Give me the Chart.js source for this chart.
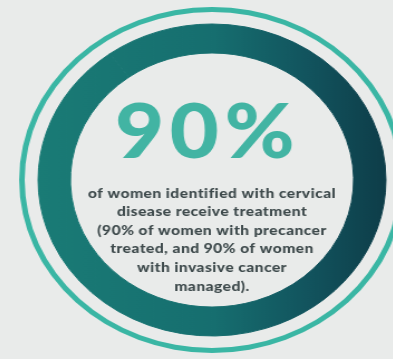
<!DOCTYPE html>
<html>
<head>
<meta charset="utf-8">
<script src="https://cdn.jsdelivr.net/npm/chart.js@4"></script>
<style>
  html, body { margin: 0; padding: 0; }
  body { width: 393px; height: 359px; background: #e9ebea; overflow: hidden; position: relative; }
  /* the source frame is a bit stretched sideways, so the ring is squashed into an ellipse */
  #wrap { position: absolute; left: 32px; top: 0; width: 359px; height: 359px;
          transform: scaleX(1.115); transform-origin: 180px 180px; }
</style>
</head>
<body>
<div id="wrap"><canvas id="ring" width="359" height="359"></canvas></div>
<script>
// ----- data -----
const headline = '90%';
const share = [90, 10];          // treated vs not treated
const outerLine = [100];         // thin decorative ring
const captionLines = [
  'of women identified with cervical',
  'disease receive treatment',
  '(90% of women with precancer',
  'treated, and 90% of women',
  'with invasive cancer',
  'managed).'
];

// gradient for the thick ring, left teal -> right dark
function ringGradient(context) {
  const chart = context.chart;
  const area = chart.chartArea;
  if (!area) return '#176f6f';
  const g = chart.ctx.createLinearGradient(area.left + 10, 0, area.right - 5, 0);
  g.addColorStop(0, '#1a7c76');
  g.addColorStop(0.5, '#166e6f');
  g.addColorStop(0.75, '#12545e');
  g.addColorStop(1, '#0d3945');
  return g;
}

// text in the middle of the ring
const centerText = {
  id: 'centerText',
  afterDraw(chart) {
    const ctx = chart.ctx;
    const meta = chart.getDatasetMeta(2).data[0];
    const cx = meta.x;
    const cy = meta.y;
    ctx.save();
    ctx.textAlign = 'center';
    ctx.textBaseline = 'alphabetic';
    ctx.fillStyle = '#42b4a3';
    ctx.font = '900 76px Lato, "Noto Sans", sans-serif';
    ctx.letterSpacing = '5px';
    ctx.fillText(headline, cx - 4, cy - 22);

    ctx.textBaseline = 'middle';
    ctx.fillStyle = '#3e4a4c';
    ctx.font = '900 14px Lato, "Noto Sans", sans-serif';
    ctx.letterSpacing = '0.4px';
    captionLines.forEach((line, i) => {
      ctx.fillText(line, cx, cy + 13 + i * 18.6);
    });
    ctx.restore();
  }
};

new Chart(document.getElementById('ring'), {
  type: 'doughnut',
  data: {
    datasets: [
      { data: outerLine, backgroundColor: '#3ab6a4', borderWidth: 0, weight: 5 },
      { data: outerLine, backgroundColor: 'rgba(0,0,0,0)', borderWidth: 0, weight: 12 },
      { data: share, backgroundColor: ringGradient, borderColor: ringGradient, borderWidth: 1, weight: 29 }
    ]
  },
  options: {
    responsive: false,
    animation: false,
    cutout: 127,
    layout: { padding: { left: 7, right: 6, top: 7, bottom: 6 } },
    plugins: { legend: { display: false }, tooltip: { enabled: false } },
    events: []
  },
  plugins: [centerText]
});
</script>
</body>
</html>
